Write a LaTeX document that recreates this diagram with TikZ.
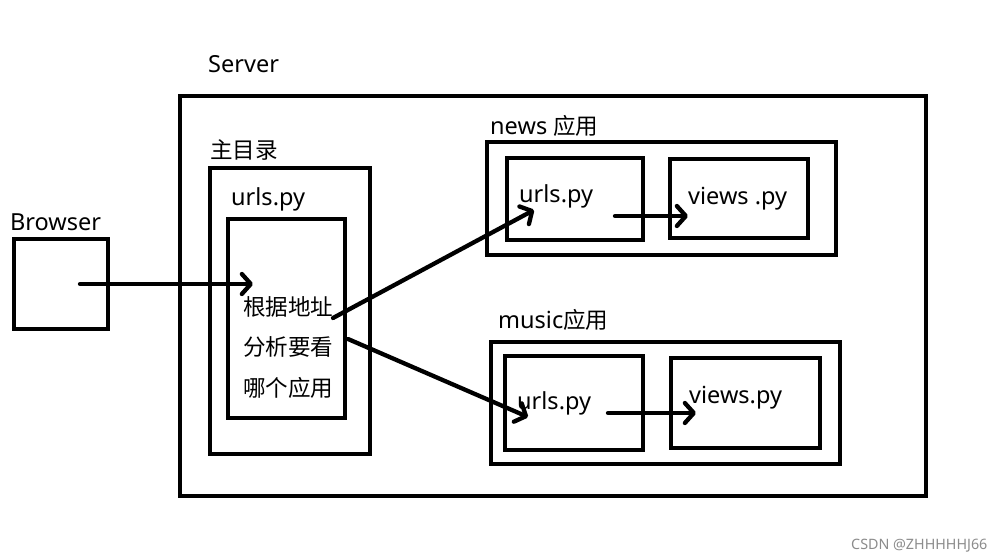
\documentclass[tikz,border=0pt]{standalone}
\usepackage{fontspec}
\setmainfont{Noto Sans}
\newfontfamily\cjk[Scale=0.96]{Noto Sans CJK SC}
\usetikzlibrary{arrows.meta}
\tikzset{
  box/.style={draw, line width=4.3pt, inner sep=0pt, anchor=center},
  lbl/.style={anchor=base west, inner sep=0pt, font=\fontsize{23.5}{27}\selectfont},
  conn/.style={line width=4.3pt, line cap=round, line join=round, -{Straight Barb[length=9pt,width=20pt,line cap=round,line join=round]}},
  wm/.style={anchor=base west, inner sep=0pt, text=black!45, font=\fontsize{14.3}{16}\selectfont}
}
\begin{document}
\begin{tikzpicture}[x=1pt,y=-1pt]
\useasboundingbox[fill=white] (0,0) rectangle (1003,559);
% boxes
\node[box, minimum width=94pt, minimum height=90pt] (browser) at (61,284) {};
\node[box, minimum width=746pt, minimum height=400pt] (server) at (553,296) {};
\node[box, minimum width=160pt, minimum height=286pt] (mainDir) at (290,311) {};
\node[box, minimum width=117pt, minimum height=199pt] (mainUrls) at (286.5,318.5) {};
\node[box, minimum width=349pt, minimum height=113pt] (news) at (661.5,198.5) {};
\node[box, minimum width=136pt, minimum height=82pt] (newsUrls) at (575,199) {};
\node[box, minimum width=138pt, minimum height=79pt] (newsViews) at (739,198.5) {};
\node[box, minimum width=349pt, minimum height=122pt] (music) at (665.5,403) {};
\node[box, minimum width=138pt, minimum height=94pt] (musicUrls) at (574,403) {};
\node[box, minimum width=149pt, minimum height=90pt] (musicViews) at (745.5,403) {};
% labels
\node[lbl] (tServer) at (208,73) {Server};
\node[lbl] (tBrowser) at (10,230) {Browser};
\node[lbl] (tMain) at (210,158) {\cjk 主目录};
\node[lbl] (tMainUrls) at (231,205) {urls.py};
\node[lbl] (t1) at (243,315) {\cjk 根据地址};
\node[lbl] (t2) at (243,355) {\cjk 分析要看};
\node[lbl] (t3) at (243,396) {\cjk 哪个应用};
\node[lbl] (tNews) at (490,135) {news \cjk 应用};
\node[lbl] (tNewsUrls) at (519,202) {urls.py};
\node[lbl] (tNewsViews) at (688,204) {views .py};
\node[lbl] (tMusic) at (498,328) {music\cjk 应用};
\node[lbl] (tMusicUrls) at (517,409) {urls.py};
\node[lbl] (tMusicViews) at (689,403) {views.py};
\node[wm] (wmark) at (851,549) {CSDN @ZHHHHHJ66};
% connector end points
\coordinate (bStart) at (80,284);
\coordinate (bEnd) at (253,284);
\coordinate (nStart) at (333,318);
\coordinate (nEnd) at (534,210);
\coordinate (mStart) at (348,339);
\coordinate (mEnd) at (528,417);
\coordinate (nuStart) at (615,216);
\coordinate (nuEnd) at (688,216);
\coordinate (muStart) at (608,413);
\coordinate (muEnd) at (696,413);
% connectors
\draw[conn] (bStart) -- (bEnd);
\draw[conn] (nStart) -- (nEnd);
\draw[conn] (mStart) -- (mEnd);
\draw[conn] (nuStart) -- (nuEnd);
\draw[conn] (muStart) -- (muEnd);
\end{tikzpicture}
\end{document}
